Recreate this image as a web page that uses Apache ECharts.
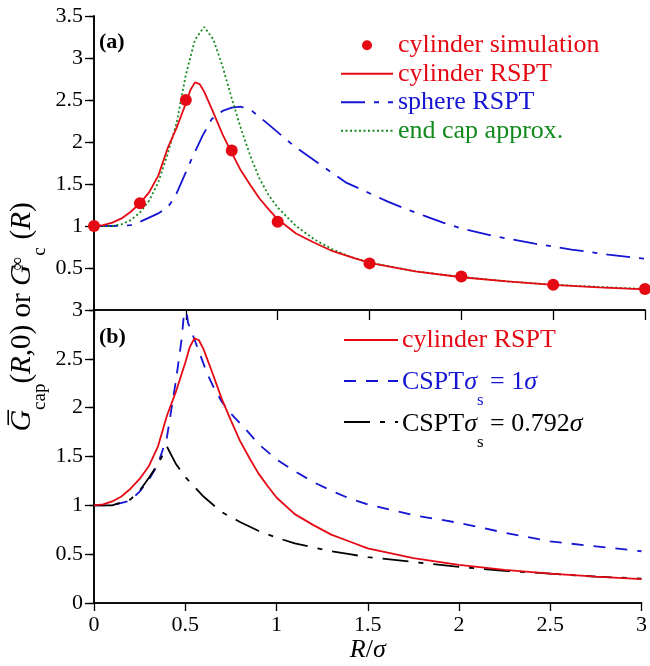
<!DOCTYPE html>
<html>
<head>
<meta charset="utf-8">
<script src="https://cdn.jsdelivr.net/npm/echarts@6/dist/echarts.min.js"></script>
<style>
  html, body { margin: 0; padding: 0; background: #fff; }
  #chart { width: 650px; height: 666px; }
</style>
</head>
<body>
<div id="chart"></div>
<script>
// panel (a): cylinder simulation points
const simR = [0, 0.25, 0.5, 0.75, 1, 1.5, 2, 2.5, 3];
const simG = [1.0, 1.27, 2.5, 1.9, 1.05, 0.555, 0.4, 0.3, 0.25];

// cylinder RSPT (used in both panels)
const cylR = [0, 0.05, 0.1, 0.15, 0.2, 0.25, 0.3, 0.35, 0.4, 0.45, 0.5, 0.525, 0.55, 0.575, 0.6, 0.65, 0.7, 0.75, 0.8, 0.85, 0.9, 0.95, 1, 1.1, 1.2, 1.3, 1.4, 1.5, 1.75, 2, 2.25, 2.5, 2.75, 3];
const cylG = [1, 1.01, 1.04, 1.09, 1.17, 1.27, 1.4, 1.6, 1.92, 2.17, 2.46, 2.62, 2.71, 2.69, 2.6, 2.35, 2.09, 1.87, 1.66, 1.49, 1.33, 1.2, 1.08, 0.91, 0.8, 0.7, 0.63, 0.56, 0.46, 0.39, 0.34, 0.3, 0.27, 0.245];

// sphere RSPT
const sphR = [0, 0.1, 0.2, 0.25, 0.3, 0.35, 0.4, 0.44, 0.48, 0.53, 0.59, 0.64, 0.7, 0.75, 0.8, 0.86, 0.95, 1.09, 1.22, 1.37, 1.5, 1.6, 1.7, 1.8, 1.9, 2, 2.2, 2.4, 2.6, 2.8, 3];
const sphG = [1, 1, 1.01, 1.05, 1.1, 1.15, 1.22, 1.34, 1.54, 1.79, 2.07, 2.27, 2.37, 2.41, 2.42, 2.37, 2.21, 1.95, 1.75, 1.52, 1.39, 1.29, 1.2, 1.12, 1.04, 0.97, 0.87, 0.79, 0.72, 0.66, 0.61];

// end cap approx.
const capR = [0, 0.1, 0.15, 0.2, 0.25, 0.3, 0.35, 0.4, 0.45, 0.5, 0.55, 0.6, 0.65, 0.7, 0.75, 0.8, 0.85, 0.9, 0.95, 1, 1.1, 1.2, 1.3, 1.4, 1.5, 1.75, 2, 2.25, 2.5, 2.75, 3];
const capG = [1, 1, 1.02, 1.07, 1.16, 1.3, 1.52, 1.85, 2.23, 2.8, 3.22, 3.37, 3.22, 2.9, 2.52, 2.16, 1.84, 1.57, 1.37, 1.22, 1.0, 0.84, 0.72, 0.63, 0.565, 0.46, 0.395, 0.34, 0.3, 0.275, 0.25];

// panel (b): CSPT sigma_s = 1 sigma
const cs1R = [0, 0.1, 0.2, 0.25, 0.3, 0.35, 0.4, 0.45, 0.48, 0.5, 0.515, 0.54, 0.58, 0.62, 0.65, 0.7, 0.75, 0.8, 0.85, 0.9, 1, 1.1, 1.2, 1.3, 1.4, 1.5, 1.75, 2, 2.25, 2.5, 2.75, 3];
const cs1G = [1, 1, 1.05, 1.14, 1.26, 1.42, 1.7, 2.29, 2.7, 3.1, 2.87, 2.75, 2.55, 2.35, 2.23, 2.06, 1.94, 1.84, 1.74, 1.63, 1.47, 1.35, 1.24, 1.15, 1.07, 1.01, 0.9, 0.82, 0.72, 0.63, 0.58, 0.53];

// CSPT sigma_s = 0.792 sigma
const cs2R = [0, 0.1, 0.2, 0.25, 0.3, 0.35, 0.4, 0.45, 0.5, 0.55, 0.6, 0.7, 0.8, 0.9, 1, 1.1, 1.2, 1.3, 1.4, 1.5, 1.75, 2, 2.25, 2.5, 2.75, 3];
const cs2G = [1, 1, 1.06, 1.15, 1.28, 1.42, 1.6, 1.42, 1.29, 1.19, 1.09, 0.93, 0.83, 0.74, 0.67, 0.61, 0.57, 0.53, 0.5, 0.47, 0.42, 0.37, 0.33, 0.3, 0.27, 0.25];

const FONT = '"Liberation Serif", "Times New Roman", serif';
const RED = '#e50914';
const BLUE = '#1414d2';
const GREEN = '#118a1c';

function pairs(xs, ys) {
  return xs.map((x, i) => [x, ys[i]]);
}

let myChart = echarts.init(document.getElementById('chart'));

const axisLine = { show: true, lineStyle: { color: '#000', width: 1.6 } };
const tickOut = (len) => ({ show: true, inside: false, length: len, lineStyle: { color: '#000', width: 1.3 } });
const tickIn = { show: true, inside: true, length: 5, lineStyle: { color: '#000', width: 1.3 } };
const labelStyle = { color: '#000', fontFamily: FONT, fontSize: 22 };

// rich styles for text with subscripts (graphic text)
const subRich = {
  n: { fontFamily: FONT, fontSize: 26, lineHeight: 54 },
  i: { fontFamily: FONT, fontSize: 26, fontStyle: 'italic', lineHeight: 54 },
  s: { fontFamily: FONT, fontSize: 17, lineHeight: 18, verticalAlign: 'bottom' }
};
const noSymbol = { opacity: 0 };

let option = {
  animation: false,
  backgroundColor: '#fff',
  grid: [
    { left: 94, top: 16, width: 551, height: 294 },
    { left: 94, top: 310, width: 551, height: 293 }
  ],
  xAxis: [
    {
      gridIndex: 0, type: 'value', min: 0, max: 3, interval: 0.5, position: 'bottom',
      axisLine: axisLine, axisTick: tickOut(10), axisLabel: { show: false }, splitLine: { show: false }
    },
    {
      gridIndex: 0, type: 'value', min: 0, max: 3, interval: 0.5, position: 'top',
      axisLine: axisLine, axisTick: { show: false }, axisLabel: { show: false }, splitLine: { show: false }
    },
    {
      gridIndex: 1, type: 'value', min: 0, max: 3, interval: 0.5, position: 'bottom',
      axisLine: axisLine, axisTick: tickOut(8),
      axisLabel: Object.assign({ margin: 11 }, labelStyle),
      splitLine: { show: false },
      name: '{i|R}{n|/}{i|σ}',
      nameLocation: 'middle',
      nameGap: 34,
      nameTextStyle: {
        color: '#000',
        rich: {
          i: { fontFamily: FONT, fontSize: 26, fontStyle: 'italic' },
          n: { fontFamily: FONT, fontSize: 26 }
        }
      }
    },
    {
      gridIndex: 1, type: 'value', min: 0, max: 3, interval: 0.5, position: 'top',
      axisLine: axisLine, axisTick: { show: false }, axisLabel: { show: false }, splitLine: { show: false }
    }
  ],
  yAxis: [
    {
      gridIndex: 0, type: 'value', min: 0, max: 3.5, interval: 0.5, position: 'left',
      axisLine: axisLine, axisTick: tickOut(9),
      axisLabel: Object.assign({ margin: 11, showMinLabel: false }, labelStyle),
      splitLine: { show: false }
    },
    {
      gridIndex: 0, type: 'value', min: 0, max: 3.5, interval: 0.5, position: 'right',
      axisLine: axisLine, axisTick: tickIn, axisLabel: { show: false }, splitLine: { show: false }
    },
    {
      gridIndex: 1, type: 'value', min: 0, max: 3, interval: 0.5, position: 'left',
      axisLine: axisLine, axisTick: tickOut(9),
      axisLabel: Object.assign({ margin: 11 }, labelStyle),
      splitLine: { show: false }
    },
    {
      gridIndex: 1, type: 'value', min: 0, max: 3, interval: 0.5, position: 'right',
      axisLine: axisLine, axisTick: tickIn, axisLabel: { show: false }, splitLine: { show: false }
    }
  ],
  legend: [
    {
      orient: 'vertical', left: 340, top: 31, padding: 0, itemGap: 0,
      itemWidth: 52, itemHeight: 10, selectedMode: false,
      textStyle: { fontFamily: FONT, fontSize: 26, lineHeight: 28.5 },
      data: [
        { name: 'cylinder simulation', textStyle: { color: RED } },
        { name: 'cylinder RSPT', textStyle: { color: RED }, itemStyle: noSymbol },
        { name: 'sphere RSPT', textStyle: { color: BLUE }, itemStyle: noSymbol },
        { name: 'end cap approx.', textStyle: { color: GREEN }, itemStyle: noSymbol }
      ]
    },
    {
      // icons only, texts with subscripts are drawn as graphic text below
      orient: 'vertical', left: 343, top: 335, padding: 0, itemGap: 32,
      itemWidth: 54, itemHeight: 10, selectedMode: false,
      formatter: () => '',
      data: [
        { name: 'cylinder RSPT', itemStyle: noSymbol },
        { name: 'CSPT σs = 1σ', itemStyle: noSymbol },
        { name: 'CSPT σs = 0.792σ', itemStyle: noSymbol }
      ]
    }
  ],
  graphic: [
    {
      type: 'text', x: 99, y: 42,
      style: { text: '(a)', font: 'bold 22px ' + FONT, fill: '#000', verticalAlign: 'middle' }
    },
    {
      type: 'text', x: 99, y: 337,
      style: { text: '(b)', font: 'bold 22px ' + FONT, fill: '#000', verticalAlign: 'middle' }
    },
    {
      type: 'text', x: 402, y: 340,
      style: { text: '{n|cylinder RSPT}', rich: subRich, fill: RED, verticalAlign: 'middle' }
    },
    {
      type: 'text', x: 402, y: 382,
      style: { text: '{n|CSPT}{i|σ}{s|s}{n| = 1}{i|σ}', rich: subRich, fill: BLUE, verticalAlign: 'middle' }
    },
    {
      type: 'text', x: 402, y: 424,
      style: { text: '{n|CSPT}{i|σ}{s|s}{n| = 0.792}{i|σ}', rich: subRich, fill: '#000', verticalAlign: 'middle' }
    },
    {
      // y axis title shared by both panels
      type: 'text', x: 22, y: 317, rotation: Math.PI / 2,
      style: {
        text: '{g|G\u0305}{sub|cap}{n|(}{i|R}{n|,0) or }{g|G}{sup|∞}{subc|c}{n|(}{i|R}{n|)}',
        fill: '#000',
        align: 'center',
        verticalAlign: 'middle',
        rich: {
          n: { fontFamily: FONT, fontSize: 29, lineHeight: 56 },
          i: { fontFamily: FONT, fontSize: 29, fontStyle: 'italic', lineHeight: 56 },
          g: { fontFamily: FONT, fontSize: 30, fontStyle: 'italic', lineHeight: 56 },
          sub: { fontFamily: FONT, fontSize: 19, lineHeight: 19, verticalAlign: 'bottom' },
          sup: { fontFamily: FONT, fontSize: 19, width: 1, padding: [0, 0, 8, 0] },
          subc: { fontFamily: FONT, fontSize: 19, lineHeight: 19, width: 24, verticalAlign: 'bottom' }
        }
      }
    }
  ],
  series: [
    {
      name: 'cylinder RSPT', type: 'line', xAxisIndex: 0, yAxisIndex: 0,
      data: pairs(cylR, cylG), symbol: 'none', color: RED,
      lineStyle: { color: RED, width: 1.8, type: 'solid' }, z: 3
    },
    {
      name: 'sphere RSPT', type: 'line', xAxisIndex: 0, yAxisIndex: 0,
      data: pairs(sphR, sphG), symbol: 'none', color: BLUE,
      lineStyle: { color: BLUE, width: 1.8, type: [24, 9, 5, 9] }, z: 2
    },
    {
      name: 'end cap approx.', type: 'line', xAxisIndex: 0, yAxisIndex: 0,
      data: pairs(capR, capG), symbol: 'none', color: GREEN,
      lineStyle: { color: GREEN, width: 1.8, type: [2, 2.5] }, z: 2
    },
    {
      name: 'cylinder simulation', type: 'scatter', xAxisIndex: 0, yAxisIndex: 0,
      data: pairs(simR, simG), symbol: 'circle', symbolSize: 12,
      itemStyle: { color: RED, opacity: 1 }, z: 5
    },
    {
      name: 'cylinder RSPT', type: 'line', xAxisIndex: 2, yAxisIndex: 2,
      data: pairs(cylR, cylG), symbol: 'none', color: RED,
      lineStyle: { color: RED, width: 1.8, type: 'solid' }, z: 3
    },
    {
      name: 'CSPT σs = 1σ', type: 'line', xAxisIndex: 2, yAxisIndex: 2,
      data: pairs(cs1R, cs1G), symbol: 'none', color: BLUE,
      lineStyle: { color: BLUE, width: 1.8, type: [12, 10] }, z: 2
    },
    {
      name: 'CSPT σs = 0.792σ', type: 'line', xAxisIndex: 2, yAxisIndex: 2,
      data: pairs(cs2R, cs2G), symbol: 'none', color: '#000',
      lineStyle: { color: '#000', width: 1.8, type: [26, 10, 5, 10] }, z: 2
    }
  ]
};

myChart.setOption(option, true);
window.addEventListener('resize', () => {
  myChart.resize();
});
</script>
</body>
</html>
